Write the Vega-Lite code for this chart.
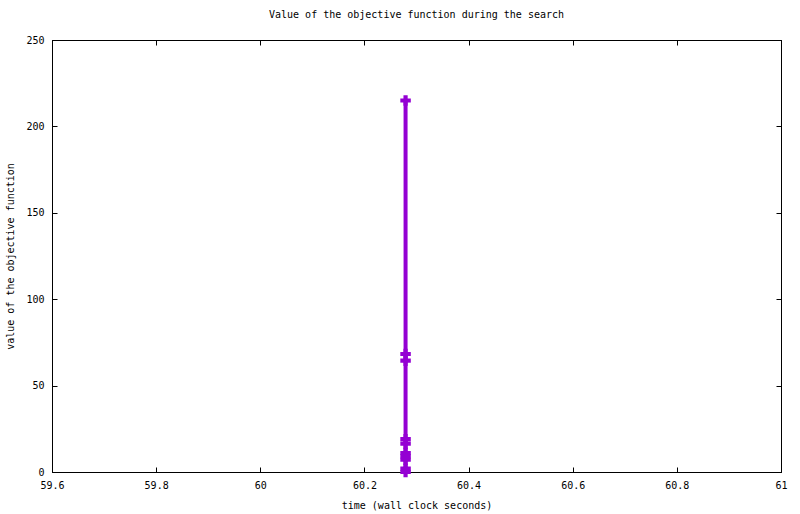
{
  "$schema": "https://vega.github.io/schema/vega-lite/v6.json",
  "width": 729,
  "height": 432,
  "autosize": {"type": "none"},
  "padding": {"left": 52, "top": 40, "right": 19, "bottom": 42},
  "background": "white",
  "title": {"text": "Value of the objective function during the search", "font": "DejaVu Sans Mono", "fontSize": 10, "fontWeight": "normal", "color": "black", "offset": 15},
  "config": {
    "view": {"stroke": "black", "strokeWidth": 1},
    "axis": {
      "grid": false,
      "domainColor": "black",
      "tickColor": "black",
      "tickSize": -5,
      "labelFont": "DejaVu Sans Mono",
      "labelFontSize": 10,
      "labelColor": "black",
      "titleFont": "DejaVu Sans Mono",
      "titleFontSize": 10,
      "titleFontWeight": "normal",
      "titleColor": "black"
    }
  },
  "data": {"values": [
    {"t": 60.279, "v": 215},
    {"t": 60.279, "v": 68.3},
    {"t": 60.279, "v": 64.4},
    {"t": 60.279, "v": 19},
    {"t": 60.279, "v": 16.4},
    {"t": 60.279, "v": 11},
    {"t": 60.279, "v": 9},
    {"t": 60.279, "v": 7.1},
    {"t": 60.279, "v": 1.9},
    {"t": 60.279, "v": 0}
  ]},
  "layer": [
    {
      "mark": {"type": "line", "color": "#9400D3", "strokeWidth": 4, "clip": false},
      "encoding": {
        "x": {"field": "t", "type": "quantitative", "scale": {"domain": [59.6, 61], "nice": false, "zero": false},
              "axis": {"orient": "bottom", "values": [59.6, 59.8, 60, 60.2, 60.4, 60.6, 60.8, 61], "format": "~f", "labelPadding": 13, "title": "time (wall clock seconds)", "titlePadding": 10, "labelFlush": false}},
        "y": {"field": "v", "type": "quantitative", "scale": {"domain": [0, 250], "nice": false},
              "axis": {"orient": "left", "values": [0, 50, 100, 150, 200, 250], "labelPadding": 13, "title": "value of the objective function", "titlePadding": 10}},
        "order": {"field": "v", "type": "quantitative", "sort": "descending"}
      }
    },
    {
      "mark": {"type": "point", "shape": "cross", "filled": true, "color": "#9400D3", "size": 110, "opacity": 1, "clip": false},
      "encoding": {
        "x": {"field": "t", "type": "quantitative", "axis": null},
        "y": {"field": "v", "type": "quantitative", "axis": null}
      }
    },
    {
      "mark": {"type": "point", "opacity": 0},
      "encoding": {
        "x": {"field": "t", "type": "quantitative",
              "axis": {"orient": "top", "values": [59.6, 59.8, 60, 60.2, 60.4, 60.6, 60.8, 61], "labels": false, "title": null}},
        "y": {"field": "v", "type": "quantitative",
              "axis": {"orient": "right", "values": [0, 50, 100, 150, 200, 250], "labels": false, "title": null}}
      }
    }
  ],
  "resolve": {"axis": {"x": "independent", "y": "independent"}}
}
